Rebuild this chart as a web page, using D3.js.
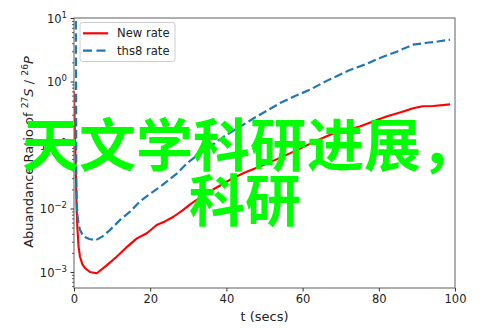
<!DOCTYPE html>
<html>
<head>
<meta charset="utf-8">
<script src="https://cdn.jsdelivr.net/npm/d3@7/dist/d3.min.js"></script>
<style>
  html, body { margin: 0; padding: 0; background: #fff; }
  svg { display: block; }
  .axis-text { font-family: "DejaVu Sans", sans-serif; fill: #222; }
  .caption text { font-family: "Noto Sans CJK SC", sans-serif; font-weight: 700; fill: #00ff00; }
</style>
</head>
<body>
<svg id="chart" width="493" height="329"></svg>
<script>
// Time samples (secs) and log10 abundance ratio for each rate
const newRateT = [0, 0.35, 0.7, 0.87, 1.2, 1.57, 2.2, 2.9, 4.2, 6, 8.5, 11.2, 14, 16.5, 19.1, 21.7, 24, 26.1, 28.5, 30.4, 32.5, 34.8, 38, 41.8, 45, 48.8, 53, 58.5, 63, 68, 75, 82, 86, 89, 91.5, 94.3, 98.7];
const newRateLog = [-0.16, -1.1, -2.02, -2.29, -2.6, -2.76, -2.88, -2.94, -3.0, -3.02, -2.9, -2.76, -2.6, -2.47, -2.39, -2.26, -2.2, -2.13, -2.03, -1.94, -1.85, -1.76, -1.65, -1.52, -1.43, -1.34, -1.23, -1.08, -0.95, -0.82, -0.71, -0.55, -0.48, -0.42, -0.39, -0.386, -0.36];

const ths8T = [0, 0.5, 0.6, 0.7, 0.87, 1.2, 1.6, 2.2, 2.9, 4, 5.7, 7.5, 9.4, 12.1, 14.7, 17.3, 19.5, 23, 27.2, 29.6, 33.1, 37, 40, 43.6, 48, 54.1, 58, 61.9, 66.3, 72.4, 76.5, 80.3, 84.7, 89, 92.6, 95.5, 98.7];
const ths8Log = [4, 0.8, -1.5, -1.85, -2.08, -2.25, -2.34, -2.41, -2.45, -2.48, -2.5, -2.44, -2.34, -2.18, -2.05, -1.89, -1.79, -1.64, -1.44, -1.29, -1.13, -0.97, -0.84, -0.71, -0.55, -0.34, -0.23, -0.13, 0.01, 0.18, 0.27, 0.37, 0.47, 0.58, 0.61, 0.63, 0.66];

const xTicks = [0, 20, 40, 60, 80, 100];
const yTickExponents = [-3, -2, -1, 0, 1];
const legendLabels = ["New rate", "ths8 rate"];
const overlayLines = ["天文学科研进展，", "科研"];

const svg = d3.select("#chart");
const plot = { left: 74, right: 455, top: 18, bottom: 288 };

const x = d3.scaleLinear().domain([0, 100]).range([plot.left, plot.right]);
const y = d3.scaleLog().domain([5.6e-4, 10]).range([plot.bottom, plot.top]);

svg.append("defs").append("clipPath").attr("id", "plotClip")
  .append("rect")
  .attr("x", plot.left).attr("y", plot.top)
  .attr("width", plot.right - plot.left).attr("height", plot.bottom - plot.top);

const toPoints = (ts, logs) => ts.map((t, i) => [t, Math.pow(10, logs[i])]);
const line = d3.line().x(d => x(d[0])).y(d => y(d[1]));

const lines = svg.append("g").attr("clip-path", "url(#plotClip)");
lines.append("path")
  .attr("d", line(toPoints(newRateT, newRateLog)))
  .attr("fill", "none").attr("stroke", "#ff0000").attr("stroke-width", 2.1)
  .attr("stroke-linejoin", "round");
lines.append("path")
  .attr("d", line(toPoints(ths8T, ths8Log)))
  .attr("fill", "none").attr("stroke", "#1f77b4").attr("stroke-width", 2.2)
  .attr("stroke-dasharray", "8.5,3.6");

// Axes box
svg.append("rect")
  .attr("x", plot.left).attr("y", plot.top)
  .attr("width", plot.right - plot.left).attr("height", plot.bottom - plot.top)
  .attr("fill", "none").attr("stroke", "#7a7a7a").attr("stroke-width", 1.2);

// X axis ticks and labels
const xAxis = svg.append("g").attr("transform", `translate(0,${plot.bottom})`)
  .call(d3.axisBottom(x).tickValues(xTicks).tickSize(3.5).tickPadding(3).tickFormat(d3.format("d")));
xAxis.select(".domain").remove();
xAxis.selectAll(".tick line").attr("stroke", "#333").attr("stroke-width", 1);
xAxis.selectAll(".tick text")
  .attr("class", "axis-text").attr("font-family", "DejaVu Sans").attr("font-size", 11.5);

// Y axis: major and minor ticks on the log scale
const minorVals = [];
for (let e = -4; e <= 0; e++) {
  for (let m = 2; m <= 9; m++) {
    const v = m * Math.pow(10, e);
    if (v >= y.domain()[0] && v <= y.domain()[1]) minorVals.push(v);
  }
}
const yMinor = svg.append("g").attr("transform", `translate(${plot.left},0)`)
  .call(d3.axisLeft(y).tickValues(minorVals).tickSize(2).tickFormat(""));
yMinor.select(".domain").remove();
yMinor.selectAll(".tick line").attr("stroke", "#333").attr("stroke-width", 0.8);

const yMajor = svg.append("g").attr("transform", `translate(${plot.left},0)`)
  .call(d3.axisLeft(y).tickValues(yTickExponents.map(e => Math.pow(10, e))).tickSize(3.5).tickFormat(""));
yMajor.select(".domain").remove();
yMajor.selectAll(".tick line").attr("stroke", "#333").attr("stroke-width", 1);

yMajor.selectAll(".tick").each(function(d) {
  const e = Math.round(Math.log10(d));
  const t = d3.select(this).append("text")
    .attr("class", "axis-text")
    .attr("x", -7).attr("y", 4)
    .attr("text-anchor", "end")
    .attr("font-size", 11.5);
  t.append("tspan").text("10");
  t.append("tspan").attr("dy", -5).attr("font-size", 8.5).text(e < 0 ? "\u2212" + (-e) : String(e));
});

// Axis titles
svg.append("text")
  .attr("class", "axis-text")
  .attr("x", (plot.left + plot.right) / 2).attr("y", 320.5)
  .attr("text-anchor", "middle").attr("font-size", 13)
  .text("t (secs)");

const yTitle = svg.append("text")
  .attr("class", "axis-text")
  .attr("transform", `translate(33,152) rotate(-90)`)
  .attr("text-anchor", "middle").attr("font-size", 13);
yTitle.append("tspan").text("Abuandance Ratio of ");
yTitle.append("tspan").attr("dy", -5).attr("font-size", 9.2).text("27");
yTitle.append("tspan").attr("dy", 5).attr("font-style", "italic").text("S");
yTitle.append("tspan").text(" / ");
yTitle.append("tspan").attr("dy", -5).attr("font-size", 9.2).text("26");
yTitle.append("tspan").attr("dy", 5).attr("font-style", "italic").text("P");

// Legend
const legend = svg.append("g");
legend.append("rect")
  .attr("x", 80).attr("y", 22.5).attr("width", 95).attr("height", 39).attr("rx", 2.5)
  .attr("fill", "#fff").attr("fill-opacity", 0.85).attr("stroke", "#cccccc").attr("stroke-width", 1);
const legendStyles = [
  { color: "#ff0000", dash: null },
  { color: "#1f77b4", dash: "9,4.5" }
];
legendLabels.forEach((label, i) => {
  const yy = 33.3 + i * 17.4;
  legend.append("line")
    .attr("x1", 83).attr("x2", 108).attr("y1", yy).attr("y2", yy)
    .attr("stroke", legendStyles[i].color).attr("stroke-width", 2.2)
    .attr("stroke-dasharray", legendStyles[i].dash);
  legend.append("text")
    .attr("class", "axis-text")
    .attr("x", 117).attr("y", yy + 4).attr("font-size", 11.6).text(label);
});

// Overlay caption in bright green
const caption = svg.append("g").attr("class", "caption");
caption.append("text").attr("x", 22).attr("y", 166).attr("font-size", 57).text(overlayLines[0]);
caption.append("text").attr("x", 189).attr("y", 221).attr("font-size", 56).text(overlayLines[1]);
</script>
</body>
</html>
